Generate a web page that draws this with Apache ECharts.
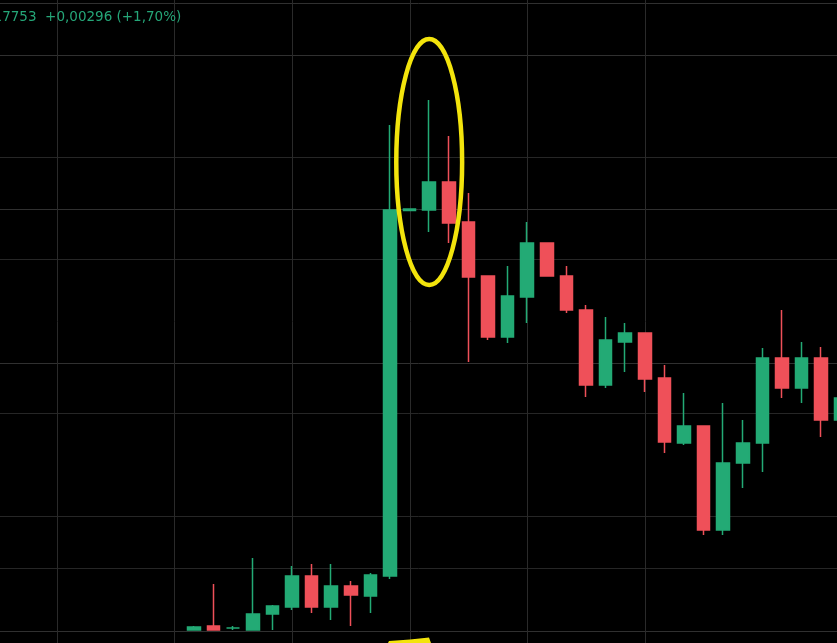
<!DOCTYPE html>
<html>
<head>
<meta charset="utf-8">
<script src="https://cdn.jsdelivr.net/npm/echarts@6/dist/echarts.min.js"></script>
<style>
html,body{margin:0;padding:0;background:#000;overflow:hidden;}
#c{width:837px;height:643px;}
</style>
</head>
<body>
<div id="c"></div>
<script>
// time categories (5-minute bars); the first ones are empty slots before the data starts
const times = ["09:50","09:55","10:00","10:05","10:10","10:15","10:20","10:25","10:30",
  "10:35","10:40","10:45","10:50","10:55","11:00","11:05","11:10","11:15","11:20",
  "11:25","11:30","11:35","11:40","11:45","11:50","11:55","12:00","12:05","12:10",
  "12:15","12:20","12:25","12:30","12:35","12:40","12:45","12:50","12:55","13:00",
  "13:05","13:10","13:15","13:20"];

// OHLC values (one entry per candle, starting at 10:35)
const opens  = [0.1563,0.1567,0.1565,0.1563,0.1579,0.1586,0.1617,0.1586,0.1607,0.1597,
                0.1617,0.19825,0.1983,0.2011,0.1971,0.1917,0.1856,0.1896,0.1950,0.1917,
                0.1883,0.1808,0.1851,0.1860,0.1815,0.1750,0.1767,0.1663,0.1730,0.1750,
                0.1835,0.1805,0.1835,0.1773];
const closes = [0.1566,0.1563,0.1565,0.1579,0.1587,0.1617,0.1586,0.1607,0.1598,0.1618,
                0.1983,0.1984,0.2011,0.1970,0.1916,0.1856,0.1897,0.1950,0.1917,0.1883,
                0.1808,0.1853,0.1860,0.1814,0.1751,0.1767,0.1663,0.1730,0.1750,0.1835,
                0.1805,0.1835,0.1773,0.1795];
const lows   = [0.1563,0.1563,0.1563,0.1563,0.1563,0.1583,0.1580,0.1573,0.1567,0.1580,
                0.1614,0.19825,0.1961,0.1950,0.1831,0.1853,0.1850,0.1870,0.1917,0.1880,
                0.1796,0.1805,0.1821,0.1801,0.1740,0.1748,0.1658,0.1658,0.1705,0.1721,
                0.1795,0.1790,0.1756,0.1768];
const highs  = [0.1567,0.1609,0.1567,0.1635,0.1588,0.1627,0.1629,0.1629,0.1612,0.1620,
                0.2068,0.1984,0.2093,0.2057,0.2000,0.1917,0.1927,0.1971,0.1950,0.1927,
                0.1888,0.1876,0.1870,0.1860,0.1828,0.1800,0.1767,0.1790,0.1773,0.1845,
                0.1883,0.1851,0.1846,0.1798];

// price grid levels and time grid marks
const gridLevelsBright = [0.2190, 0.2138, 0.1984, 0.1830, 0.1562];
const gridLevelsDim    = [0.2036, 0.1934, 0.1780, 0.1677, 0.1625];
const gridTimes = ["10:00","10:30","11:00","11:30","12:00","12:30"];

// header text
const headerText = "0,17753  +0,00296 (+1,70%)";

// highlighted region (yellow ellipse) around candle #12
const hiCandle = 12, hiHalfWidthBars = 1.68, hiHigh = 0.2154, hiLow = 0.1908;

const GREEN = '#23aa75', RED = '#ef5059', YELLOW = '#f3e40c';
const LEAD = times.length - opens.length;

const candleData = times.map((t, k) => {
  const i = k - LEAD;
  if (i < 0) return '-';
  return [opens[i], closes[i], lows[i], highs[i]];
});

function hLineSeries(levels, color) {
  return {
    type: 'custom', z: 1, silent: true,
    data: levels.map(v => [0, v]),
    encode: { x: 0, y: 1 },
    renderItem: (params, api) => {
      const cs = params.coordSys;
      const y = Math.round(api.coord([0, api.value(1)])[1]) + 0.5;
      return { type: 'line', shape: { x1: cs.x - 20, y1: y, x2: cs.x + cs.width, y2: y },
               style: { stroke: color, lineWidth: 1 } };
    }
  };
}

const chart = echarts.init(document.getElementById('c'), null, { renderer: 'canvas' });
chart.setOption({
  backgroundColor: '#000000',
  animation: false,
  grid: { left: 7.8, top: 0, width: 842.8, height: 643, containLabel: false, outerBoundsMode: 'none' },
  xAxis: { type: 'category', data: times, show: false, boundaryGap: true },
  yAxis: { type: 'value', min: 0.155, max: 0.2193, show: false, splitLine: { show: false } },
  series: [
    hLineSeries(gridLevelsBright, '#303030'),
    hLineSeries(gridLevelsDim, '#262626'),
    {
      type: 'custom', z: 1, silent: true,
      data: gridTimes.map(t => [t, 0.18]),
      encode: { x: 0, y: 1 },
      renderItem: (params, api) => {
        const cs = params.coordSys;
        const x = Math.round(api.coord([api.value(0), api.value(1)])[0]) + 0.5;
        return { type: 'line', shape: { x1: x, y1: cs.y, x2: x, y2: cs.y + cs.height },
                 style: { stroke: '#2a2a2a', lineWidth: 1 } };
      }
    },
    {
      type: 'candlestick', z: 3,
      data: candleData,
      barWidth: 13,
      itemStyle: {
        color: GREEN, color0: RED,
        borderColor: GREEN, borderColor0: RED, borderColorDoji: GREEN,
        borderWidth: 1.5
      }
    }
  ]
});

// annotation placed from data coordinates
const p0 = chart.convertToPixel({ gridIndex: 0 }, [LEAD + hiCandle, (hiHigh + hiLow) / 2]);
const pA = chart.convertToPixel({ gridIndex: 0 }, [LEAD + hiCandle + 1, hiHigh]);
const pB = chart.convertToPixel({ gridIndex: 0 }, [LEAD + hiCandle, hiLow]);
const barStep = pA[0] - p0[0];
chart.setOption({
  graphic: [
    {
      type: 'ellipse', z: 10, silent: true,
      shape: { cx: p0[0], cy: p0[1], rx: barStep * hiHalfWidthBars, ry: (pB[1] - pA[1]) / 2 },
      style: { fill: null, stroke: YELLOW, lineWidth: 4.5 }
    },
    {
      type: 'polygon', z: 10, silent: true,
      shape: { points: [[388, 643], [389, 641], [410, 639.5], [429, 637.5], [431, 643]] },
      style: { fill: YELLOW }
    },
    {
      type: 'text', z: 10, silent: true,
      x: -19.3, y: 17,
      style: { text: headerText, fill: '#25a678', font: '13.5px "DejaVu Sans"', verticalAlign: 'middle', align: 'left' }
    }
  ]
});
</script>
</body>
</html>
